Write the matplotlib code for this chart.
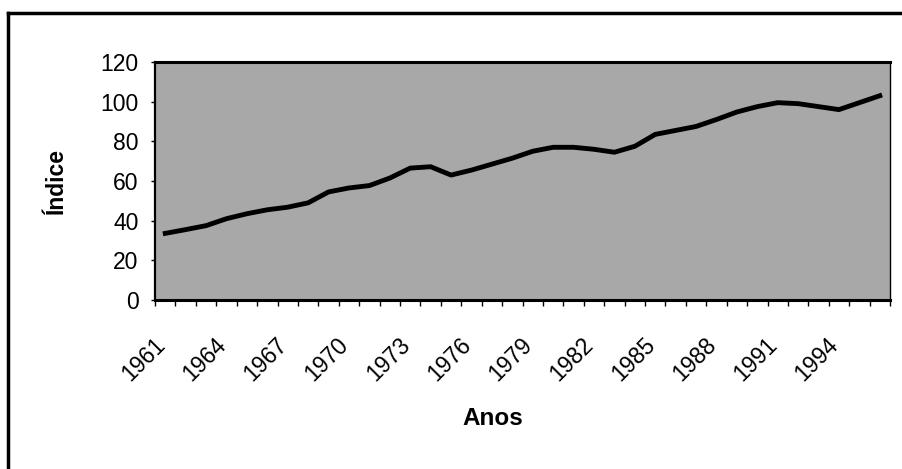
import matplotlib
matplotlib.use("Agg")
from matplotlib import pyplot as plt
from matplotlib.lines import Line2D
from matplotlib.transforms import ScaledTranslation

plt.rcParams['font.family'] = ['Liberation Sans', 'DejaVu Sans']

# data: index per year, 1961-1996
years = list(range(1961, 1997))
indice = [33.6, 35.5, 37.5, 41.0, 43.5, 45.5, 46.8, 49.0, 54.5, 56.5,
          57.7, 61.5, 66.5, 67.2, 63.0, 65.5, 68.5, 71.5, 75.0, 77.0,
          77.0, 76.0, 74.5, 77.5, 83.5, 85.5, 87.5, 91.0, 94.8, 97.5,
          99.5, 99.0, 97.5, 96.0, 99.5, 103.0]
label_years = list(range(1961, 1995, 3))
yticks = [0, 20, 40, 60, 80, 100, 120]

fig = plt.figure(figsize=(9.03, 4.69), dpi=100)
ax = fig.add_axes([0.1717, 0.3603, 0.8139, 0.5075])

ax.set_facecolor('#a8a8a8')
ax.plot(years, indice, color='black', lw=3.5, solid_joinstyle='round')

ax.set_xlim(years[0] - 0.5, years[-1] + 0.5)
ax.set_ylim(0, 120)

# y axis
ax.set_yticks(yticks)
ax.tick_params(axis='y', direction='out', length=3, width=1, pad=9, labelsize=16.5)

# x axis: labels every 3 years, ticks at category edges
ax.set_xticks(label_years)
ax.set_xticklabels([str(y) for y in label_years], rotation=45, ha='right',
                   va='top', rotation_mode='anchor', fontsize=16.5)
ax.tick_params(axis='x', length=0, pad=24)
shift = ScaledTranslation(-12 / 100, 0, fig.dpi_scale_trans)
for lab in ax.get_xticklabels():
    lab.set_transform(lab.get_transform() + shift)
ax.set_xticks([y - 0.5 for y in years] + [years[-1] + 0.5], minor=True)
ax.tick_params(axis='x', which='minor', direction='out', length=4, width=1)

for side in ['top', 'bottom']:
    ax.spines[side].set_linewidth(2.2)
ax.spines['left'].set_linewidth(1.6)
ax.spines['right'].set_linewidth(1.0)

ax.set_ylabel('Índice', fontsize=16.5, fontweight='bold')
ax.yaxis.set_label_coords(-0.118, 0.5)
ax.set_xlabel('Anos', fontsize=17.5, fontweight='bold')
ax.xaxis.set_label_coords(0.46, -0.45)

# outer chart frame (top and left edges visible)
fig.add_artist(Line2D([8 / 903, 1], [1 - 13 / 469, 1 - 13 / 469],
                      transform=fig.transFigure, color='black', lw=2.5))
fig.add_artist(Line2D([8 / 903, 8 / 903], [0, 1 - 13 / 469],
                      transform=fig.transFigure, color='black', lw=2.5))

fig.savefig('out.png', dpi=100)
